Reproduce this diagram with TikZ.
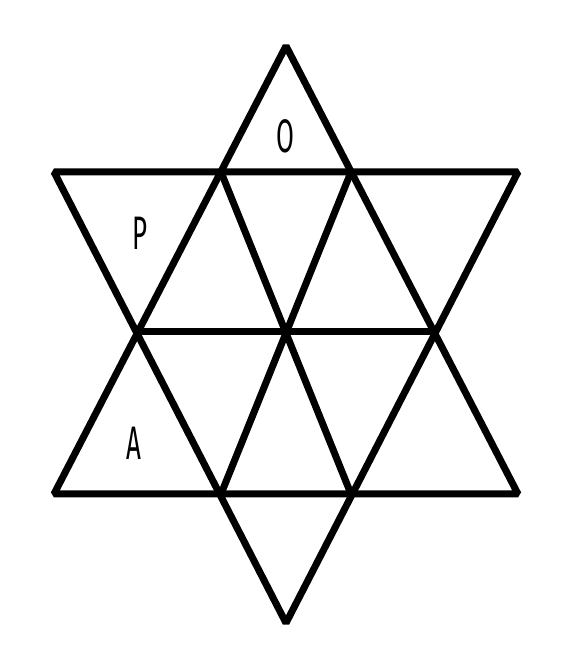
\documentclass[tikz,border=0pt]{standalone}
\usepackage{fontspec}
\newfontfamily\condfont[FakeStretch=0.55]{Fira Sans}
\begin{document}
\begin{tikzpicture}[x=1pt,y=1pt,
  edge/.style={line width=7pt,line join=miter,miter limit=1.6,line cap=butt},
  lbl/.style={font=\condfont\fontsize{47}{47}\selectfont,inner sep=0pt}]
\useasboundingbox[fill=white] (0,0) rectangle (586,664);
% outer vertices
\coordinate (T) at (286,618);
\coordinate (B) at (286,41);
\coordinate (UL) at (54,492);
\coordinate (UR) at (518,492);
\coordinate (LL) at (54,170);
\coordinate (LR) at (518,170);
\coordinate (ML) at (137,332);
\coordinate (MR) at (435,332);
\coordinate (I1) at (221,492);
\coordinate (I2) at (351,492);
\coordinate (I3) at (221,170);
\coordinate (I4) at (351,170);
\coordinate (C) at (286,332);
% big triangles
\draw[edge] (T) -- (LL) -- (LR) -- cycle;
\draw[edge] (B) -- (UL) -- (UR) -- cycle;
% inner lines
\draw[edge] (ML) -- (MR);
\draw[edge] (I1) -- (I4);
\draw[edge] (I2) -- (I3);
% labels
\node[lbl] (o) at (285,528) {O};
\node[lbl] (p) at (140,431) {P};
\node[lbl] (a) at (134,221) {A};
\end{tikzpicture}
\end{document}
